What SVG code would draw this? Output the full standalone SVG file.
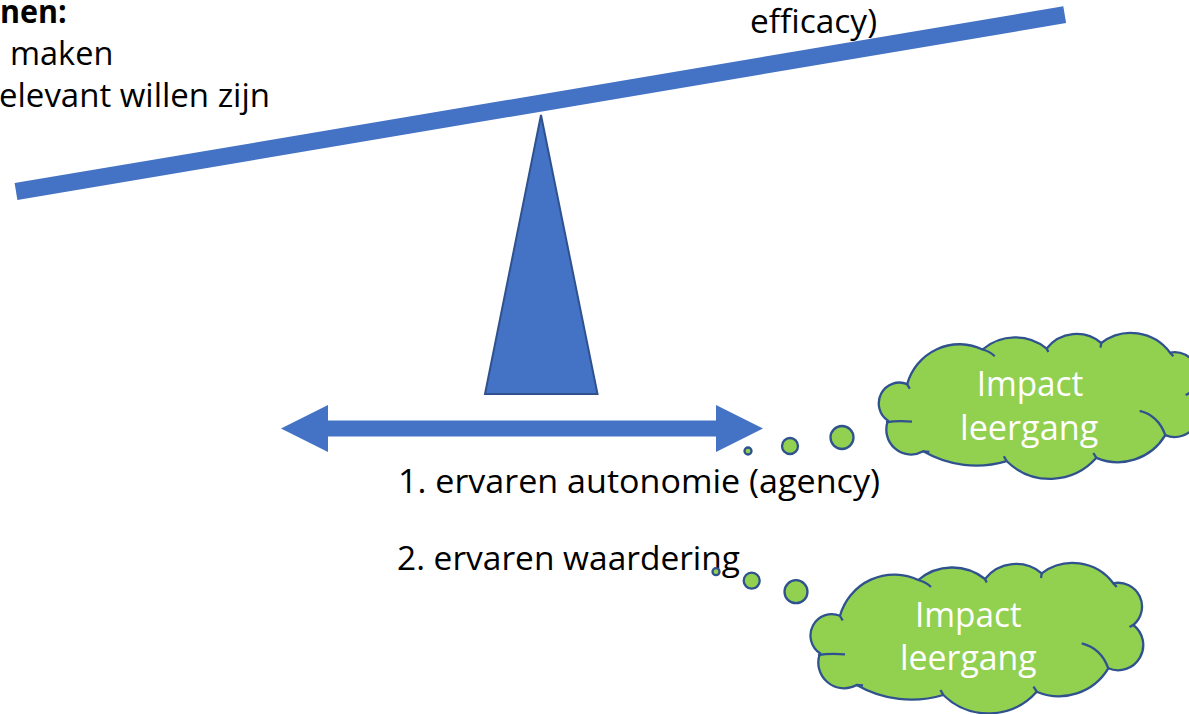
<svg xmlns="http://www.w3.org/2000/svg" width="1189" height="714" viewBox="0 0 1189 714">
  <style>
    .t { font-family: "Open Sans", "Noto Sans", "Liberation Sans", sans-serif; font-size: 32px; fill: #000; }
    .b { font-weight: bold; }
    .ct { font-family: "Open Sans", "Noto Sans", "Liberation Sans", sans-serif; font-size: 34px; fill: #fff; }
    .cloud { fill: #92D050; stroke: #2F528F; stroke-width: 2.3; vector-effect: non-scaling-stroke; }
    .inner { fill: none; stroke: #2F528F; stroke-width: 2.3; vector-effect: non-scaling-stroke; }
    .bub { fill: #92D050; stroke: #2F528F; stroke-width: 2.3; }
    .blue { fill: #4472C4; }
  </style>
  <defs>
    <g id="cloudShape">
      <path class="cloud" d="M820,653.3 A21.4,21.4 0 0 1 840,615.7 A56.3,56.3 0 0 1 918.3,580 A52.3,52.3 0 0 1 985,579 A39.8,39.8 0 0 1 1041.7,573.3 A51,51 0 0 1 1113.3,583.3 A23.8,23.8 0 0 1 1133.3,625 A25.2,25.2 0 0 1 1108.3,668.3 A57.6,57.6 0 0 1 1036.7,691.7 A64.6,64.6 0 0 1 943.3,695 A110,110 0 0 1 856.7,685 A25.8,25.8 0 0 1 820,653.3 Z"/>
      <path class="inner" d="M918.3,580 Q926,582 931,587 M1081.7,643.3 Q1101,648 1108.3,668.3 M845,654.3 Q830,653 818,655 M840,616 L842.7,620.5 M985,579 L986.7,582.5 M1041.7,573.3 L1041,578 M1113.3,583.3 L1116.7,587 M1133.3,625 L1129.5,627 M1036.7,691.7 L1033.5,686.7 M943.3,695 L940.5,690 M856.7,685 L863,685.5"/>
    </g>
  </defs>

  <g id="texts">
    <text class="t b" x="0" y="22.7" textLength="66.7" lengthAdjust="spacingAndGlyphs">nen:</text>
    <text class="t" x="10" y="65" textLength="103.3" lengthAdjust="spacingAndGlyphs">maken</text>
    <text class="t" x="-1" y="106.7" textLength="271" lengthAdjust="spacingAndGlyphs">elevant willen zijn</text>
    <text class="t" x="750" y="33" textLength="127" lengthAdjust="spacingAndGlyphs">efficacy)</text>
    <text class="t" x="398" y="493" textLength="482" lengthAdjust="spacingAndGlyphs">1. ervaren autonomie (agency)</text>
    <text class="t" x="397" y="570" textLength="343" lengthAdjust="spacingAndGlyphs">2. ervaren waardering</text>
  </g>

  <g id="beam">
    <line x1="16" y1="191.5" x2="1064.7" y2="14.7" stroke="#4472C4" stroke-width="17"/>
  </g>

  <g id="fulcrum">
    <polygon points="541,115 597.5,394 485,394" fill="#4472C4" stroke="#2F528F" stroke-width="2" stroke-linejoin="miter"/>
  </g>

  <g id="connectors">
    <polygon class="blue" points="281,428.5 328,405 328,420.5 716,420.5 716,405 763,428.5 716,452 716,436.5 328,436.5 328,452"/>
  </g>

  <g id="cloud1">
    <g transform="translate(99.1,-213.1) scale(0.962,0.97)">
      <use href="#cloudShape"/>
    </g>
    <text class="ct" x="976.7" y="396" textLength="106.6" lengthAdjust="spacingAndGlyphs">Impact</text>
    <text class="ct" x="960" y="440" textLength="138.3" lengthAdjust="spacingAndGlyphs">leergang</text>
    <circle class="bub" cx="748" cy="451" r="3.5"/>
    <circle class="bub" cx="790" cy="446" r="8"/>
    <circle class="bub" cx="842" cy="437.5" r="11.5"/>
  </g>

  <g id="cloud2">
    <use href="#cloudShape"/>
    <text class="ct" x="915" y="627" textLength="106.7" lengthAdjust="spacingAndGlyphs">Impact</text>
    <text class="ct" x="900" y="670" textLength="136.7" lengthAdjust="spacingAndGlyphs">leergang</text>
    <circle class="bub" cx="716" cy="571.7" r="3.5"/>
    <circle class="bub" cx="751.7" cy="580.7" r="8"/>
    <circle class="bub" cx="796" cy="591.7" r="11.5"/>
  </g>
</svg>
